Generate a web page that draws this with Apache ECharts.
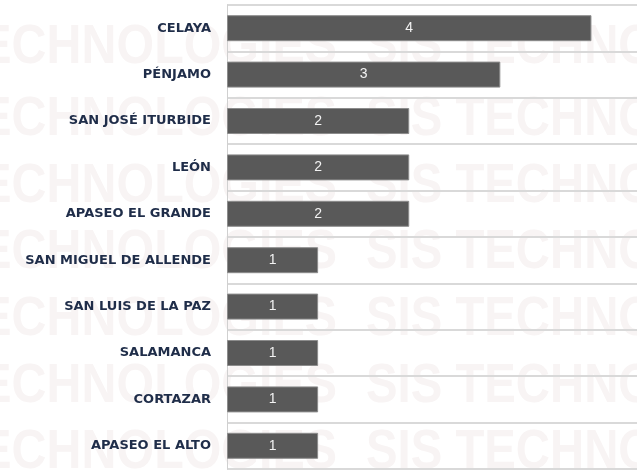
<!DOCTYPE html>
<html>
<head>
<meta charset="utf-8">
<script src="https://cdn.jsdelivr.net/npm/echarts@6/dist/echarts.min.js"></script>
<style>
  html, body { margin: 0; padding: 0; background: #fff; }
  #chart { width: 637px; height: 470px; }
</style>
</head>
<body>
<div id="chart"></div>
<script>
const categories = [
  "CELAYA", "PÉNJAMO", "SAN JOSÉ ITURBIDE", "LEÓN", "APASEO EL GRANDE",
  "SAN MIGUEL DE ALLENDE", "SAN LUIS DE LA PAZ", "SALAMANCA", "CORTAZAR", "APASEO EL ALTO"
];
const values = [4, 3, 2, 2, 2, 1, 1, 1, 1, 1];
const watermarkRows = [-20, 48, 120, 187, 253, 320, 387, 453];

const chart = echarts.init(document.getElementById("chart"));

// faint watermark behind the plot (narrowed bold sans)
const wmStyle = { font: "bold 55px 'Liberation Sans'", fill: "#f8f4f4", verticalAlign: "middle" };
const marks = [];
watermarkRows.forEach(function (y) {
  marks.push({
    type: "text", z: -10, silent: true, x: 337, y: y, scaleX: 0.88,
    style: Object.assign({ text: "TECHNOLOGIES", align: "right" }, wmStyle)
  });
  marks.push({
    type: "text", z: -10, silent: true, x: 366, y: y, scaleX: 0.86,
    style: Object.assign({ text: "SIS TECHNOLOGIES", align: "left" }, wmStyle)
  });
});

const option = {
  backgroundColor: "#fff",
  animation: false,
  graphic: marks,
  grid: { left: 227, right: 0, top: 5, bottom: 1 },
  xAxis: {
    type: "value",
    min: 0,
    max: 4.5,
    show: false
  },
  yAxis: {
    type: "category",
    data: categories,
    inverse: true,
    axisLine: { show: true, lineStyle: { color: "#d0d0d0", width: 1 } },
    axisTick: { show: false },
    splitLine: { show: true, lineStyle: { color: "#d9d9d9", width: 2 } },
    axisLabel: {
      margin: 16,
      color: "#1f2d49",
      fontFamily: "DejaVu Sans",
      fontWeight: "bold",
      fontSize: 13
    }
  },
  series: [
    {
      type: "bar",
      data: values,
      barWidth: 26,
      itemStyle: { color: "#595959", borderColor: "#8c8c8c", borderWidth: 1 },
      label: {
        show: true,
        position: "inside",
        color: "#f2f2f2",
        fontFamily: "Liberation Sans",
        fontSize: 14
      }
    }
  ]
};
chart.setOption(option);
</script>
</body>
</html>
